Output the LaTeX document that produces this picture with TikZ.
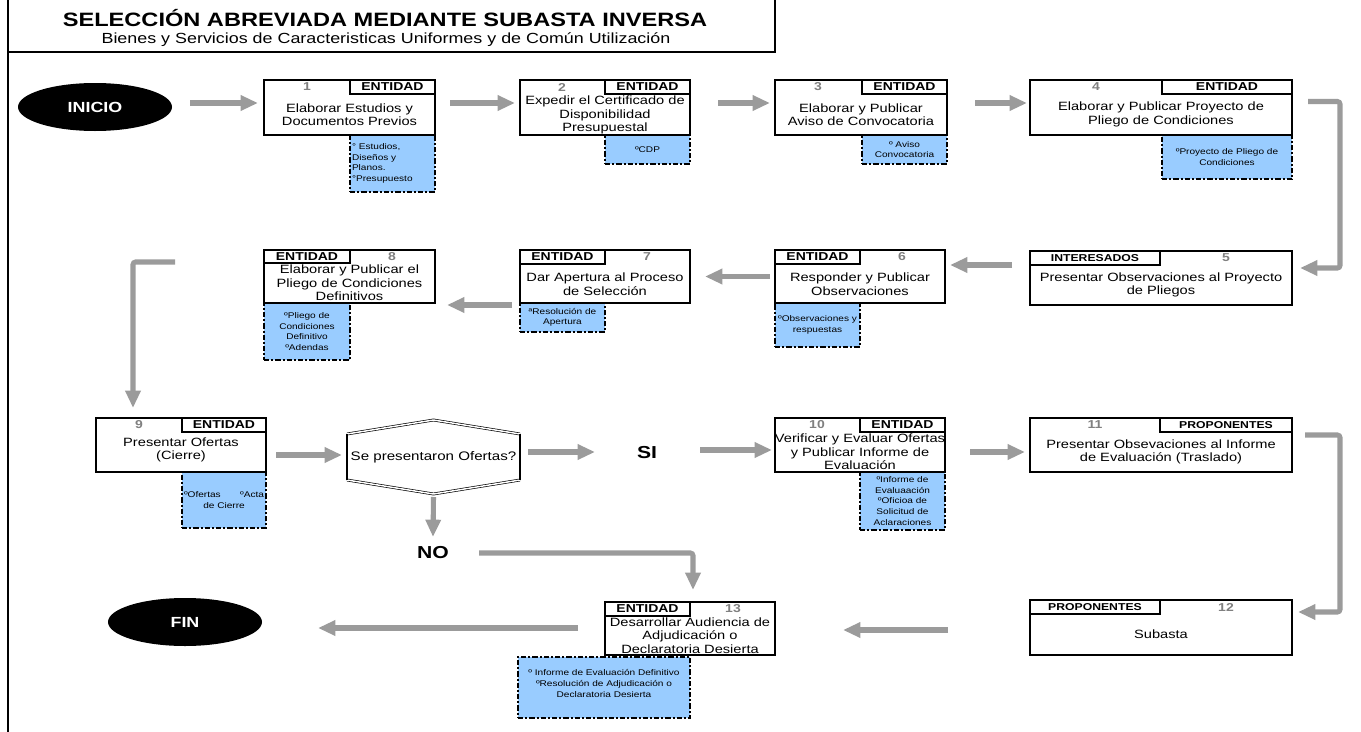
\documentclass[tikz,border=0pt]{standalone}
\usepackage{fontspec}
\setmainfont{Liberation Sans}[FakeStretch=1.22]
\usetikzlibrary{arrows.meta,fit,calc,shapes.geometric}
\definecolor{agray}{RGB}{155,155,155}
\definecolor{docblue}{RGB}{153,204,255}
\definecolor{numgray}{RGB}{128,128,128}
\tikzset{
  every node/.style={inner sep=0pt, outer sep=0pt},
  frameline/.style={draw=black, line width=1.8pt},
  boxframe/.style={draw=black, fill=white, line width=1.2pt, rectangle},
  rolecell/.style={draw=black, line width=1.2pt, rectangle},
  roletxt/.style={font=\fontsize{8.6}{9}\selectfont\bfseries},
  rolesmall/.style={font=\fontsize{7.5}{8}\selectfont\bfseries},
  numtxt/.style={text=numgray, font=\fontsize{8.6}{9}\selectfont\bfseries},
  bodytxt/.style={align=center, font=\fontsize{9}{10.1}\selectfont},
  docbox/.style={fill=docblue, draw=black, line width=1.1pt, dash pattern=on 4pt off 1.5pt on 1.5pt off 1.5pt},
  doctxt/.style={align=center, font=\fontsize{6.2}{7.9}\selectfont},
  flow/.style={draw=agray, line width=3.8pt, rounded corners=2pt, -{Triangle[width=11pt,length=13pt]}},
  term/.style={ellipse, fill=black, text=white, minimum width=115.5pt, minimum height=36pt, font=\fontsize{11}{12}\selectfont\bfseries},
  hexslant/.style={draw=black, line width=0.5pt, double=white, double distance=1.1pt},
  hexside/.style={draw=black, line width=2.2pt},
  dectxt/.style={font=\fontsize{9.3}{10}\selectfont, minimum width=129.75pt, minimum height=55.5pt},
  bigtxt/.style={font=\fontsize{13}{14}\selectfont\bfseries},
  titletxt/.style={font=\fontsize{14.5}{16}\selectfont\bfseries},
  subtxt/.style={font=\fontsize{11}{12}\selectfont},
}
\begin{document}
\begin{tikzpicture}[x=0.75pt,y=-0.75pt]
\useasboundingbox (0,0) rectangle (1361,732);
% frame and title
\draw[frameline] (8,0) -- (8,732);
\draw[frameline] (8,52) -- (775,52) -- (775,0);
\node[titletxt] (title) at (385,18) {SELECCIÓN ABREVIADA MEDIANTE SUBASTA INVERSA};
\node[subtxt] (subtitle) at (386,40) {Bienes y Servicios de Caracteristicas Uniformes y de Común Utilización};

% terminals
\node[term] (inicio) at (95,107) {INICIO};
\node[term] (fin) at (185,622) {FIN};

% document boxes (drawn before the process boxes)
\node[docbox, fit={(350,135)(435,192)}] (d1) {};
\node[doctxt, align=left, anchor=west] (d1t) at ([xshift=1.5pt]d1.west) {° Estudios,\\Diseños y\\Planos.\\°Presupuesto};
\node[docbox, fit={(605,135)(690,164)}] (d2) {};
\node[doctxt] (d2t) at (d2.center) {ºCDP};
\node[docbox, fit={(862,135)(947,164)}] (d3) {};
\node[doctxt] (d3t) at (d3.center) {º Aviso\\Convocatoria};
\node[docbox, fit={(1162,135)(1292,179)}] (d4) {};
\node[doctxt] (d4t) at (d4.center) {ºProyecto de Pliego de\\Condiciones};
\node[docbox, fit={(775,303)(860,347)}] (d6) {};
\node[doctxt] (d6t) at (d6.center) {ºObservaciones y\\respuestas};
\node[docbox, fit={(520,303)(605,332)}] (d7) {};
\node[doctxt] (d7t) at (d7.center) {ªResolución de\\Apertura};
\node[docbox, fit={(264,303)(350,360)}] (d8) {};
\node[doctxt] (d8t) at (d8.center) {ºPliego de\\Condiciones\\Definitivo\\ºAdendas};
\node[docbox, fit={(182,472)(266,528)}] (d9) {};
\node[doctxt] (d9t) at (d9.center) {\makebox[60pt][s]{ºOfertas\hfill ºActa}\\de Cierre};
\node[docbox, fit={(860,472)(945,530)}] (d10) {};
\node[doctxt] (d10t) at (d10.center) {ºInforme de\\Evaluaación\\ºOficioa de\\Solicitud de\\Aclaraciones};
\node[docbox, fit={(518,657)(690,718)}] (d13) {};
\node[doctxt] (d13t) at ([yshift=3pt]d13.center) {º Informe de Evaluación Definitivo\\ºResolución de Adjudicación o\\Declaratoria Desierta};

% process boxes
\node[boxframe, fit={(264,80)(435,135)}] (b1) {};
\node[rolecell, fit={(350,80)(435,94)}] (r1) {};
\node[roletxt] (r1t) at (r1.center) {ENTIDAD};
\node[numtxt] (n1) at (307,87) {1};
\node[bodytxt] (t1) at (349.5,114.5) {Elaborar Estudios y\\Documentos Previos};

\node[boxframe, fit={(520,80)(690,135)}] (b2) {};
\node[rolecell, fit={(605,80)(690,94)}] (r2) {};
\node[roletxt] (r2t) at (r2.center) {ENTIDAD};
\node[numtxt] (n2) at (562,87) {2};
\node[bodytxt] (t2) at (605,115) {Expedir el Certificado de\\Disponibilidad\\Presupuestal};

\node[boxframe, fit={(775,80)(947,135)}] (b3) {};
\node[rolecell, fit={(862,80)(947,94)}] (r3) {};
\node[roletxt] (r3t) at (r3.center) {ENTIDAD};
\node[numtxt] (n3) at (818,87) {3};
\node[bodytxt] (t3) at (861,114.5) {Elaborar y Publicar\\Aviso de Convocatoria};

\node[boxframe, fit={(1030,80)(1292,135)}] (b4) {};
\node[rolecell, fit={(1162,80)(1292,94)}] (r4) {};
\node[roletxt] (r4t) at (r4.center) {ENTIDAD};
\node[numtxt] (n4) at (1096,87) {4};
\node[bodytxt] (t4) at (1161,114.5) {Elaborar y Publicar Proyecto de\\Pliego de Condiciones};

\node[boxframe, fit={(1030,251)(1292,305)}] (b5) {};
\node[rolecell, fit={(1030,251)(1160,265)}] (r5) {};
\node[rolesmall] (r5t) at (r5.center) {INTERESADOS};
\node[numtxt] (n5) at (1226,258) {5};
\node[bodytxt] (t5) at (1161,285) {Presentar Observaciones al Proyecto\\de Pliegos};

\node[boxframe, fit={(775,250)(945,303)}] (b6) {};
\node[rolecell, fit={(775,250)(860,264)}] (r6) {};
\node[roletxt] (r6t) at (r6.center) {ENTIDAD};
\node[numtxt] (n6) at (902,257) {6};
\node[bodytxt] (t6) at (860,284) {Responder y Publicar\\Observaciones};

\node[boxframe, fit={(520,250)(690,303)}] (b7) {};
\node[rolecell, fit={(520,250)(605,264)}] (r7) {};
\node[roletxt] (r7t) at (r7.center) {ENTIDAD};
\node[numtxt] (n7) at (647,257) {7};
\node[bodytxt] (t7) at (605,284) {Dar Apertura al Proceso\\de Selección};

\node[boxframe, fit={(264,250)(435,303)}] (b8) {};
\node[rolecell, fit={(264,250)(350,263)}] (r8) {};
\node[roletxt] (r8t) at (r8.center) {ENTIDAD};
\node[numtxt] (n8) at (392,257) {8};
\node[bodytxt] (t8) at (349.5,283) {Elaborar y Publicar el\\Pliego de Condiciones\\Definitivos};

\node[boxframe, fit={(96,418)(266,472)}] (b9) {};
\node[rolecell, fit={(182,418)(266,432)}] (r9) {};
\node[roletxt] (r9t) at (r9.center) {ENTIDAD};
\node[numtxt] (n9) at (139,425) {9};
\node[bodytxt] (t9) at (181,450) {Presentar Ofertas\\(Cierre)};

\node[boxframe, fit={(775,418)(945,472)}] (b10) {};
\node[rolecell, fit={(860,418)(945,432)}] (r10) {};
\node[roletxt] (r10t) at (r10.center) {ENTIDAD};
\node[numtxt] (n10) at (817,425) {10};
\node[bodytxt] (t10) at (860,452) {Verificar y Evaluar Ofertas\\y Publicar Informe de\\Evaluación};

\node[boxframe, fit={(1030,418)(1292,472)}] (b11) {};
\node[rolecell, fit={(1160,418)(1292,432)}] (r11) {};
\node[rolesmall] (r11t) at (r11.center) {PROPONENTES};
\node[numtxt] (n11) at (1095,425) {11};
\node[bodytxt] (t11) at (1161,452) {Presentar Obsevaciones al Informe\\de Evaluación (Traslado)};

\node[boxframe, fit={(1030,600)(1292,655)}] (b12) {};
\node[rolecell, fit={(1030,600)(1160,614)}] (r12) {};
\node[rolesmall] (r12t) at (r12.center) {PROPONENTES};
\node[numtxt] (n12) at (1226,607) {12};
\node[bodytxt] (t12) at (1161,634) {Subasta};

\node[boxframe, fit={(605,602)(775,655)}] (b13) {};
\node[rolecell, fit={(605,602)(690,616)}] (r13) {};
\node[roletxt] (r13t) at (r13.center) {ENTIDAD};
\node[numtxt] (n13) at (733,609) {13};
\node[bodytxt] (t13) at (690,635.5) {Desarrollar Audiencia de\\Adjudicación o\\Declaratoria Desierta};

% decision
\node[dectxt] (dec) at (433.5,457) {Se presentaron Ofertas?};
\draw[hexslant] ($(dec.west)+(0,-23)$) -- (dec.north) -- ($(dec.east)+(0,-23)$);
\draw[hexslant] ($(dec.west)+(0,23)$) -- (dec.south) -- ($(dec.east)+(0,23)$);
\draw[hexside] ($(dec.west)+(0,-23)$) -- ($(dec.west)+(0,23)$);
\draw[hexside] ($(dec.east)+(0,-23)$) -- ($(dec.east)+(0,23)$);

\node[bigtxt] (si) at (647,453) {SI};
\node[bigtxt] (no) at (433,553) {NO};

% connectors
\draw[flow] ([shift={(18,-4)}]inicio.east) -- ([shift={(-6,-4.5)}]b1.west);
\draw[flow] ([shift={(15,-4.5)}]b1.east) -- ([shift={(-5,-4.5)}]b2.west);
\draw[flow] ([shift={(28,-4.5)}]b2.east) -- ([shift={(-5,-4.5)}]b3.west);
\draw[flow] ([shift={(28,-4.5)}]b3.east) -- ([shift={(-3,-4.5)}]b4.west);
\draw[flow] ([shift={(16,-6)}]b4.east) -- ++(32,0) |- ([shift={(8,-10)}]b5.east);
\draw[flow] ([shift={(-18,-13)}]b5.west) -- ([shift={(5,-11.5)}]b6.east);
\draw[flow] ([shift={(-5,0)}]b6.west) -- ([shift={(15,0)}]b7.east);
\draw[flow] ([shift={(-8,28.5)}]b7.west) -- ([shift={(12,28.5)}]b8.east);
\draw[flow] ([shift={(-89,-14.5)}]b8.west) -| ([shift={(-48,-10)}]b9.north);
\draw[flow] ([shift={(10,10)}]b9.east) -- ([shift={(-5,-2)}]dec.west);
\draw[flow] ([shift={(8,-5)}]dec.east) -- ([shift={(-52,-1)}]si.center);
\draw[flow] ([shift={(53,-3)}]si.center) -- ([shift={(-3,5)}]b10.west);
\draw[flow] ([shift={(25,7)}]b10.east) -- ([shift={(-5,7)}]b11.west);
\draw[flow] ([shift={(13,-10)}]b11.east) -- ++(35,0) |- ([shift={(6,-15.5)}]b12.east);
\draw[flow] ([shift={(-82,2.5)}]b12.west) -- ([shift={(68,1.5)}]b13.east);
\draw[flow] ([shift={(-27,-0.5)}]b13.west) -- ([shift={(56,6)}]fin.east);
\draw[flow] ([shift={(0,3)}]dec.south) -- ([shift={(0,-16)}]no.center);
\draw[flow] ([shift={(46,0)}]no.center) -| ([shift={(3,-12)}]b13.north);
\end{tikzpicture}
\end{document}
